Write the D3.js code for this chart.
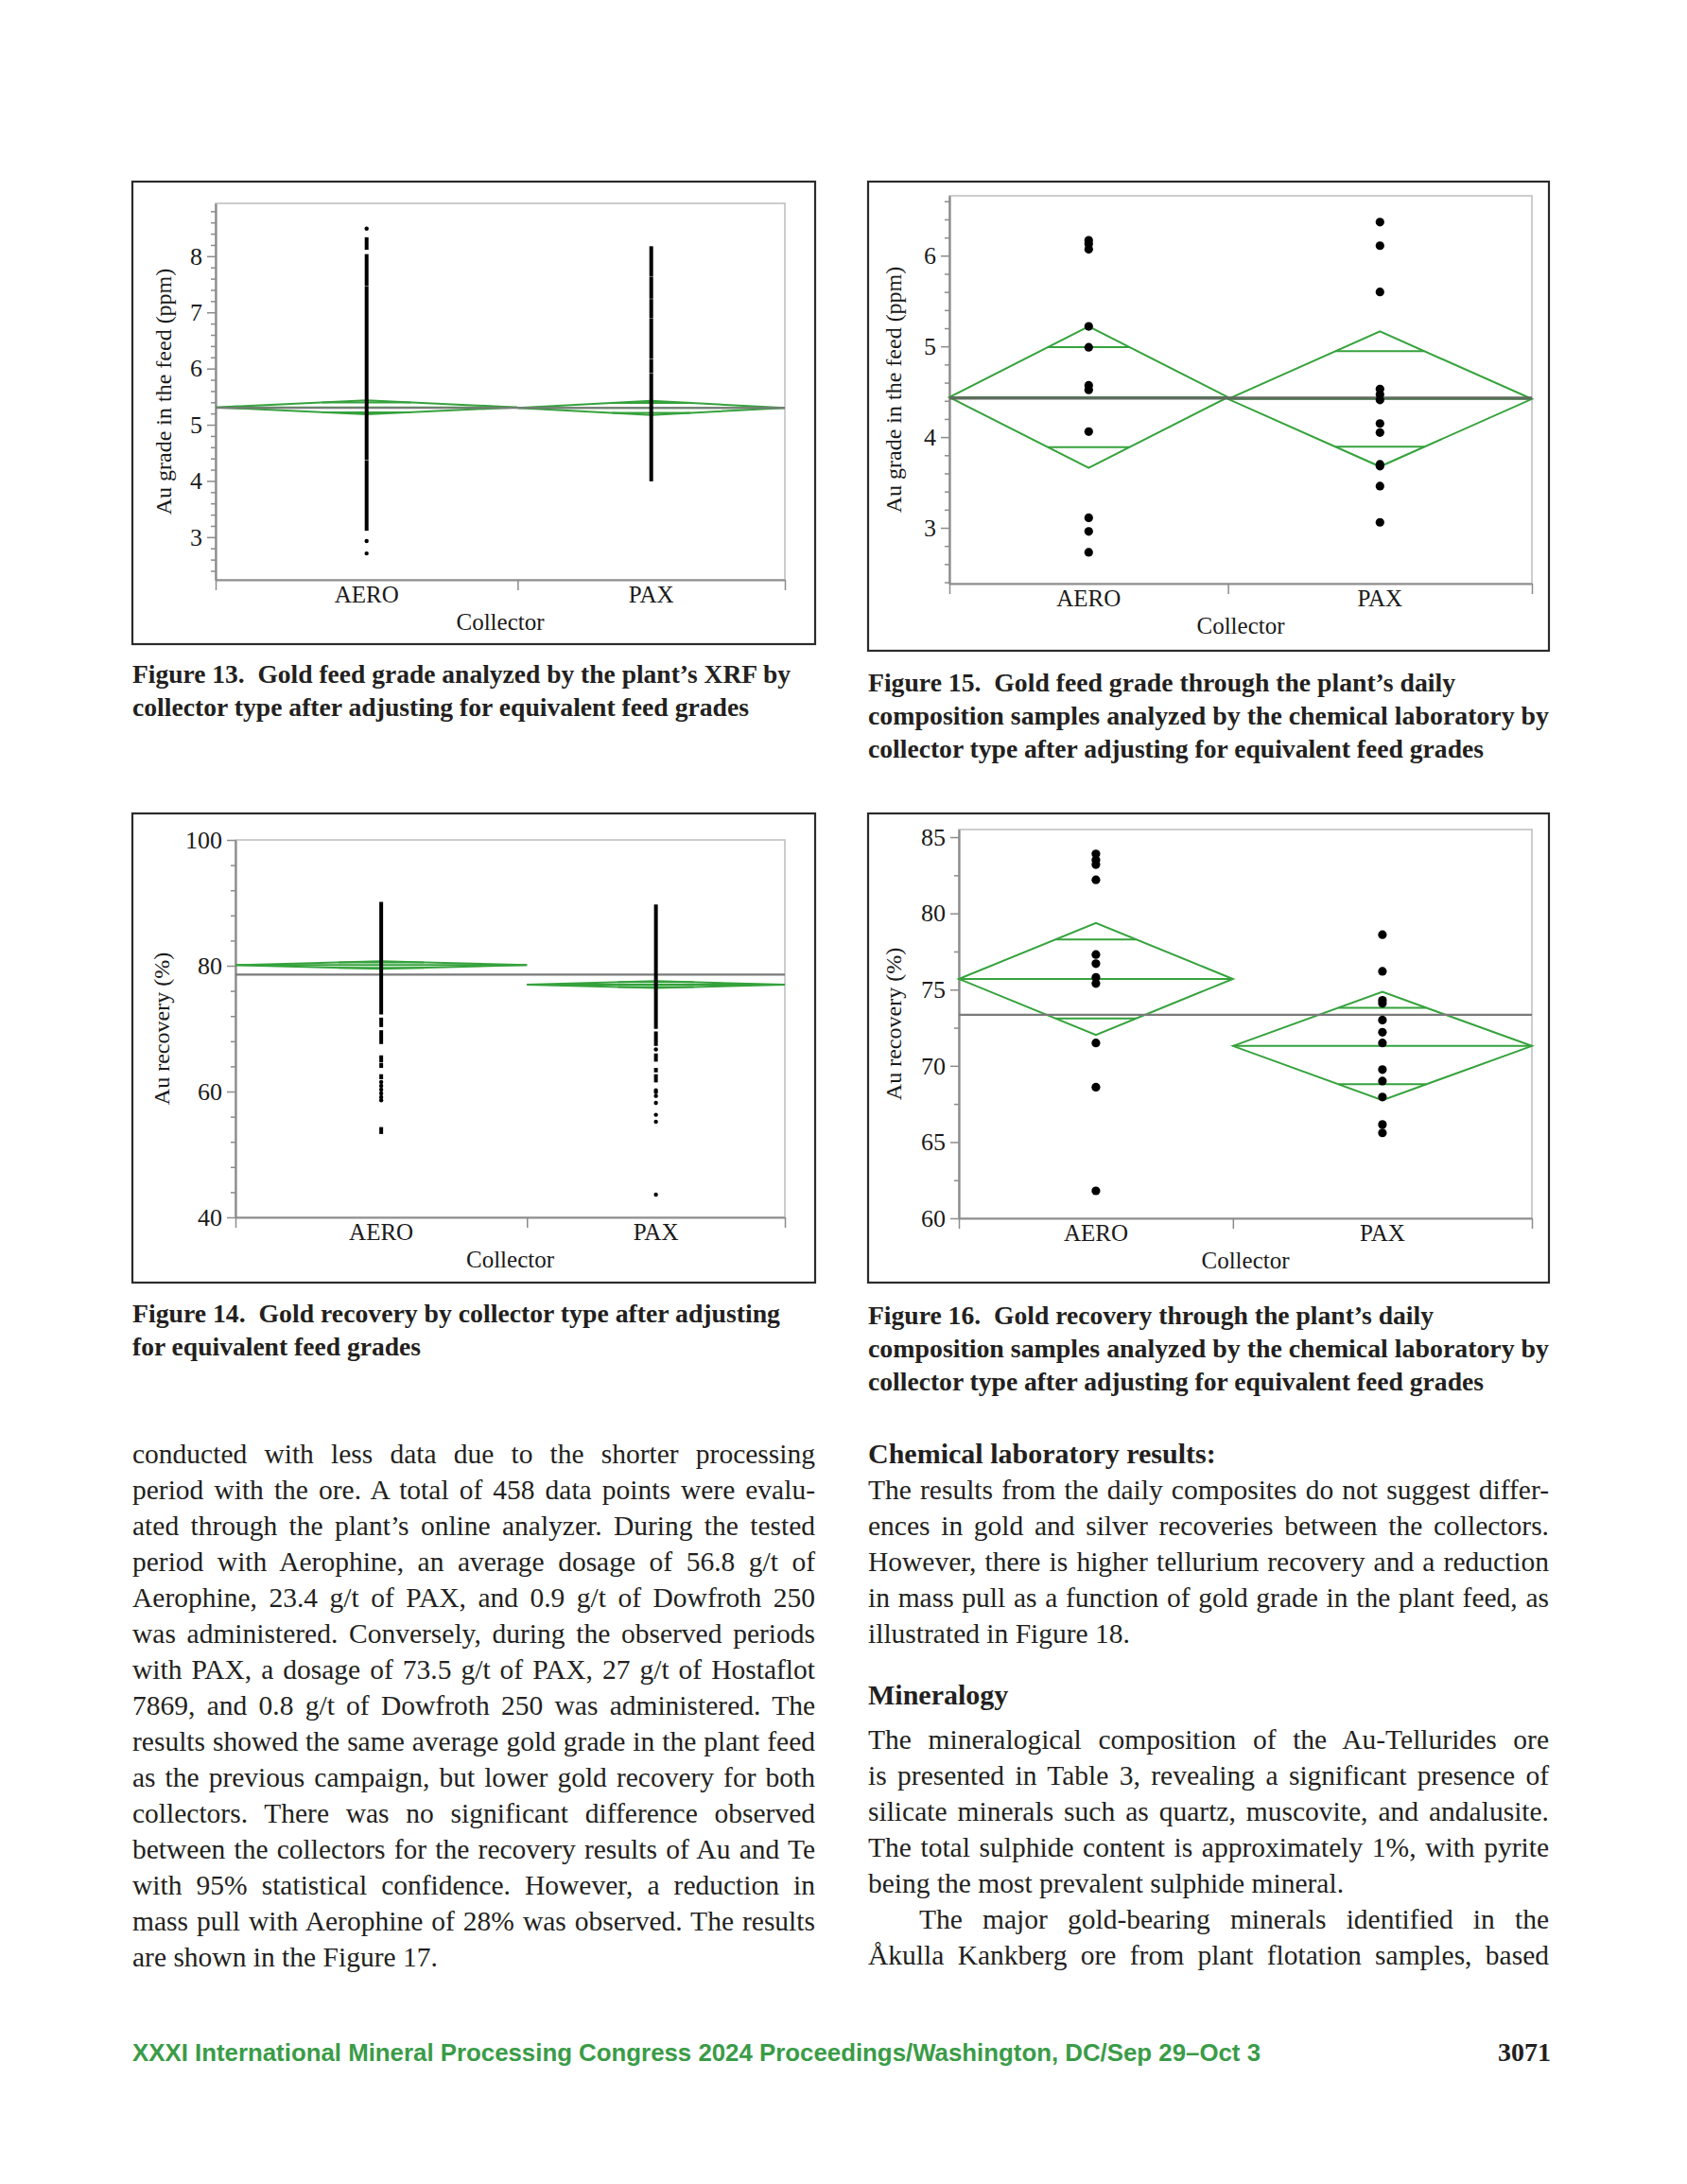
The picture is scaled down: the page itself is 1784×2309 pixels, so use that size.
<!DOCTYPE html>
<html>
<head>
<meta charset="utf-8">
<script src="https://cdn.jsdelivr.net/npm/d3@7"></script>
<style>
  body { margin: 0; background: #fff; }
  svg { display: block; }
  text { font-family: "Liberation Serif", "Times New Roman", serif; }
</style>
</head>
<body>
<script>
// page size
var width = 1784;
var height = 2309;

// collectors and sample counts (category widths follow counts)
var collectors = ["AERO", "PAX"];
var onlineCounts = [243, 215];
var dailyCounts = [11, 12];

// Figure 13 - XRF feed grade (ppm)
var fig13Ticks = [3, 4, 5, 6, 7, 8];
var fig13Means = [5.31, 5.30];
var fig13Ci = [0.125, 0.125];
var fig13Grand = 5.30;
var fig13AeroRuns = [[3.13, 4.35], [4.39, 7.45], [7.49, 8.02], [8.13, 8.32]];
var fig13AeroPts = [8.49, 2.93, 2.71];
var fig13PaxRuns = [[4.01, 5.90], [5.94, 6.15], [6.19, 6.88], [6.92, 7.22], [7.26, 7.62], [7.66, 8.16]];
var fig13PaxPts = [];

// Figure 14 - Au recovery (%), online analyzer
var fig14Ticks = [40, 60, 80, 100];
var fig14Means = [80.1, 77.0];
var fig14Ci = [0.6, 0.55];
var fig14Grand = 78.6;
var fig14AeroRuns = [[72.4, 90.0], [70.4, 71.6], [67.7, 69.6], [64.8, 65.6], [63.9, 64.4], [62.1, 62.6], [53.4, 54.2]];
var fig14AeroPts = [61.5, 60.9, 60.3, 59.7, 59.1, 58.6];
var fig14PaxRuns = [[70.1, 89.6], [67.4, 69.4], [64.9, 65.9], [63.2, 63.6], [61.6, 62.6]];
var fig14PaxPts = [66.7, 60.2, 59.9, 59.3, 58.2, 56.3, 55.2, 43.6];

// Figure 15 - daily composites, feed grade (ppm)
var fig15Ticks = [3, 4, 5, 6];
var fig15Means = [4.44, 4.42];
var fig15Ci = [0.78, 0.745];
var fig15Grand = 4.43;
var fig15Aero = [6.17, 6.13, 6.07, 5.22, 4.99, 4.57, 4.52, 4.06, 3.11, 2.96, 2.73];
var fig15Pax = [6.37, 6.11, 5.60, 4.53, 4.47, 4.41, 4.15, 4.05, 3.70, 3.68, 3.46, 3.06];

// Figure 16 - daily composites, Au recovery (%)
var fig16Ticks = [60, 65, 70, 75, 80, 85];
var fig16Means = [75.7, 71.3];
var fig16Ci = [3.67, 3.55];
var fig16Grand = 73.35;
var fig16Aero = [83.9, 83.5, 83.2, 82.2, 77.3, 76.7, 75.8, 75.4, 71.5, 68.6, 61.8];
var fig16Pax = [78.6, 76.2, 74.3, 74.1, 73.0, 72.2, 71.5, 69.75, 69.0, 67.95, 66.15, 65.6];

var green = "#35a23c";

var svg = d3.select("body")
            .append("svg")
            .attr("width", width)
            .attr("height", height);

svg.append("rect").attr("width", width).attr("height", height).attr("fill", "#fff");

// one JMP style means-diamond chart
function drawChart(o) {
  var g = svg.append("g");

  g.append("rect")
   .attr("x", o.box[0]).attr("y", o.box[1])
   .attr("width", o.box[2] - o.box[0]).attr("height", o.box[3] - o.box[1])
   .attr("fill", "none").attr("stroke", "#2b2b2b").attr("stroke-width", 2.2);

  var y = d3.scaleLinear().domain(o.domain).range([o.frame[3], o.frame[1]]);
  var total = d3.sum(o.counts);
  var x = d3.scaleLinear().domain([0, total]).range([o.frame[0], o.frame[2]]);
  var edges = [0, o.counts[0], total];

  var bands = collectors.map(function(c, i) {
    return {
      name: c,
      x0: x(edges[i]),
      x1: x(edges[i + 1]),
      xc: x((edges[i] + edges[i + 1]) / 2),
      mean: o.means[i],
      ci: o.ci[i]
    };
  });

  // plot frame
  g.append("rect")
   .attr("x", o.frame[0]).attr("y", o.frame[1])
   .attr("width", o.frame[2] - o.frame[0]).attr("height", o.frame[3] - o.frame[1])
   .attr("fill", "none").attr("stroke", "#bdbdbd").attr("stroke-width", 1.5);

  // minor ticks
  var k0 = Math.ceil(o.domain[0] / o.minorStep - 1e-6);
  var k1 = Math.floor(o.domain[1] / o.minorStep + 1e-6);
  var minor = d3.range(k0, k1 + 1).map(function(k) { return +(k * o.minorStep).toFixed(3); })
                .filter(function(v) { return !o.ticks.some(function(t) { return Math.abs(t - v) < 1e-6; }); });

  var minorAxis = g.append("g")
   .attr("transform", "translate(" + o.frame[0] + ",0)")
   .call(d3.axisLeft(y).tickValues(minor).tickSize(5).tickSizeOuter(0).tickFormat(""));

  var yAxis = g.append("g")
   .attr("transform", "translate(" + o.frame[0] + ",0)")
   .call(d3.axisLeft(y).tickValues(o.ticks).tickSize(9).tickSizeOuter(0).tickPadding(5)
           .tickFormat(d3.format("d")));

  var xAxis = g.append("g")
   .attr("transform", "translate(0," + o.frame[3] + ")")
   .call(d3.axisBottom(x).tickValues(edges).tickSize(11).tickSizeOuter(0).tickFormat(""));

  [minorAxis, yAxis, xAxis].forEach(function(a) {
    a.selectAll("path").attr("stroke", "#8c8c8c").attr("stroke-width", 1.8);
    a.selectAll("line").attr("stroke", "#8c8c8c").attr("stroke-width", 1.5);
    a.selectAll("text")
     .style("font-family", '"Liberation Serif", serif')
     .style("font-size", "26px")
     .attr("fill", "#1a1a1a");
  });

  // category labels
  g.selectAll("text.cat")
   .data(bands)
   .enter()
   .append("text")
   .attr("class", "cat")
   .attr("x", function(d) { return d.xc; })
   .attr("y", o.frame[3] + 24)
   .attr("text-anchor", "middle")
   .style("font-size", "25px")
   .attr("fill", "#1a1a1a")
   .text(function(d) { return d.name; });

  g.append("text")
   .attr("x", (o.frame[0] + o.frame[2]) / 2)
   .attr("y", o.frame[3] + 53)
   .attr("text-anchor", "middle")
   .style("font-size", "25px")
   .attr("fill", "#1a1a1a")
   .text("Collector");

  g.append("text")
   .attr("transform", "translate(" + o.titleX + "," + (o.frame[1] + o.frame[3]) / 2 + ") rotate(-90)")
   .attr("text-anchor", "middle")
   .style("font-size", "24px")
   .attr("fill", "#1a1a1a")
   .text(o.title);

  // means diamonds
  g.selectAll("path.diamond")
   .data(bands)
   .enter()
   .append("path")
   .attr("class", "diamond")
   .attr("d", function(d) {
     return "M" + d.x0 + "," + y(d.mean) +
            "L" + d.xc + "," + y(d.mean + d.ci) +
            "L" + d.x1 + "," + y(d.mean) +
            "L" + d.xc + "," + y(d.mean - d.ci) + "Z";
   })
   .attr("fill", "none")
   .attr("stroke", green)
   .attr("stroke-width", 2);

  g.selectAll("line.meanline")
   .data(bands)
   .enter()
   .append("line")
   .attr("x1", function(d) { return d.x0; })
   .attr("x2", function(d) { return d.x1; })
   .attr("y1", function(d) { return y(d.mean); })
   .attr("y2", function(d) { return y(d.mean); })
   .attr("stroke", green)
   .attr("stroke-width", 2);

  // overlap marks at mean +/- ci / sqrt(2)
  var marks = [];
  bands.forEach(function(d) {
    var h = d.ci / Math.SQRT2;
    var w = (d.x1 - d.x0) / 2 * (1 - 1 / Math.SQRT2);
    marks.push({ x0: d.xc - w, x1: d.xc + w, v: d.mean + h });
    marks.push({ x0: d.xc - w, x1: d.xc + w, v: d.mean - h });
  });
  g.selectAll("line.overlap")
   .data(marks)
   .enter()
   .append("line")
   .attr("x1", function(d) { return d.x0; })
   .attr("x2", function(d) { return d.x1; })
   .attr("y1", function(d) { return y(d.v); })
   .attr("y2", function(d) { return y(d.v); })
   .attr("stroke", green)
   .attr("stroke-width", 2);

  // grand mean
  g.append("line")
   .attr("x1", o.frame[0]).attr("x2", o.frame[2])
   .attr("y1", y(o.grand)).attr("y2", y(o.grand))
   .attr("stroke", o.grandColor || "#7a7a7a")
   .attr("stroke-width", o.grandWidth || 2.2);

  // data: dense runs (online analyzer) or single points (daily composites)
  bands.forEach(function(b, i) {
    var runs = o.runs ? o.runs[i] : [];
    g.selectAll("line.run" + i)
     .data(runs)
     .enter()
     .append("line")
     .attr("x1", b.xc).attr("x2", b.xc)
     .attr("y1", function(d) { return y(d[0]) + 1; })
     .attr("y2", function(d) { return y(d[1]) - 1; })
     .attr("stroke", "#000")
     .attr("stroke-width", 4);

    g.selectAll("circle.pt" + i)
     .data(o.points[i])
     .enter()
     .append("circle")
     .attr("cx", b.xc)
     .attr("cy", function(d) { return y(d); })
     .attr("r", o.r)
     .attr("fill", "#000");
  });
}

drawChart({
  box: [140, 192, 862, 681], frame: [228, 215, 830, 613],
  domain: [2.24, 8.94], ticks: fig13Ticks, minorStep: 0.2,
  counts: onlineCounts, means: fig13Means, ci: fig13Ci, grand: fig13Grand,
  runs: [fig13AeroRuns, fig13PaxRuns], points: [fig13AeroPts, fig13PaxPts], r: 2.2,
  title: "Au grade in the feed (ppm)", titleX: 181
});

drawChart({
  box: [918, 192, 1638, 688], frame: [1004, 207, 1620, 617],
  domain: [2.385, 6.66], ticks: fig15Ticks, minorStep: 0.2,
  counts: dailyCounts, means: fig15Means, ci: fig15Ci, grand: fig15Grand,
  grandColor: "#5e6b5e", grandWidth: 3.2,
  points: [fig15Aero, fig15Pax], r: 4.6,
  title: "Au grade in the feed (ppm)", titleX: 953
});

drawChart({
  box: [140, 860, 862, 1356], frame: [249, 888, 830, 1287],
  domain: [40, 100], ticks: fig14Ticks, minorStep: 4,
  counts: onlineCounts, means: fig14Means, ci: fig14Ci, grand: fig14Grand,
  runs: [fig14AeroRuns, fig14PaxRuns], points: [fig14AeroPts, fig14PaxPts], r: 2.2,
  title: "Au recovery (%)", titleX: 179
});

drawChart({
  box: [918, 860, 1638, 1356], frame: [1014, 877, 1620, 1288],
  domain: [60, 85.5], ticks: fig16Ticks, minorStep: 2.5,
  counts: dailyCounts, means: fig16Means, ci: fig16Ci, grand: fig16Grand,
  points: [fig16Aero, fig16Pax], r: 4.6,
  title: "Au recovery (%)", titleX: 953
});

// captions: [text, baseline, width]
function caption(x, rows) {
  rows.forEach(function(r) {
    svg.append("text")
       .attr("x", x).attr("y", r[1])
       .attr("textLength", r[2])
       .attr("lengthAdjust", "spacingAndGlyphs")
       .style("font-size", "27px")
       .style("font-weight", "bold")
       .style("white-space", "pre")
       .attr("fill", "#231f20")
       .text(r[0]);
  });
}

caption(140, [
  ["Figure 13.  Gold feed grade analyzed by the plant\u2019s XRF by", 722, 696],
  ["collector type after adjusting for equivalent feed grades", 757, 652]
]);
caption(918, [
  ["Figure 15.  Gold feed grade through the plant\u2019s daily", 731, 621],
  ["composition samples analyzed by the chemical laboratory by", 766, 720],
  ["collector type after adjusting for equivalent feed grades", 801, 651]
]);
caption(140, [
  ["Figure 14.  Gold recovery by collector type after adjusting", 1398, 685],
  ["for equivalent feed grades", 1433, 305]
]);
caption(918, [
  ["Figure 16.  Gold recovery through the plant\u2019s daily", 1400, 598],
  ["composition samples analyzed by the chemical laboratory by", 1435, 720],
  ["collector type after adjusting for equivalent feed grades", 1470, 651]
]);

// body text, justified by word spacing
function para(x, w, lines) {
  lines.forEach(function(l) {
    var ind = l.indent || 0;
    var t = svg.append("text")
       .attr("x", x + ind).attr("y", l.y)
       .style("font-size", l.bold ? "30px" : "29.5px")
       .style("font-weight", l.bold ? "bold" : "normal")
       .attr("fill", "#231f20")
       .text(l.t);
    if (l.j) {
      var n = t.node().getComputedTextLength();
      var sp = (l.t.match(/ /g) || []).length;
      if (sp > 0) t.style("word-spacing", ((w - ind - n) / sp) + "px");
    }
  });
}

var lead = 38;
var leftLines = [
  "conducted with less data due to the shorter processing",
  "period with the ore. A total of 458 data points were evalu-",
  "ated through the plant\u2019s online analyzer. During the tested",
  "period with Aerophine, an average dosage of 56.8 g/t of",
  "Aerophine, 23.4 g/t of PAX, and 0.9 g/t of Dowfroth 250",
  "was administered. Conversely, during the observed periods",
  "with PAX, a dosage of 73.5 g/t of PAX, 27 g/t of Hostaflot",
  "7869, and 0.8 g/t of Dowfroth 250 was administered. The",
  "results showed the same average gold grade in the plant feed",
  "as the previous campaign, but lower gold recovery for both",
  "collectors. There was no significant difference observed",
  "between the collectors for the recovery results of Au and Te",
  "with 95% statistical confidence. However, a reduction in",
  "mass pull with Aerophine of 28% was observed. The results",
  "are shown in the Figure 17."
];
para(140, 722, leftLines.map(function(t, i) {
  return { t: t, y: 1547 + i * lead, j: i < leftLines.length - 1 };
}));

para(918, 720, [
  { t: "Chemical laboratory results:", y: 1547, bold: true },
  { t: "The results from the daily composites do not suggest differ-", y: 1547 + lead, j: true },
  { t: "ences in gold and silver recoveries between the collectors.", y: 1547 + 2 * lead, j: true },
  { t: "However, there is higher tellurium recovery and a reduction", y: 1547 + 3 * lead, j: true },
  { t: "in mass pull as a function of gold grade in the plant feed, as", y: 1547 + 4 * lead, j: true },
  { t: "illustrated in Figure 18.", y: 1547 + 5 * lead },
  { t: "Mineralogy", y: 1802, bold: true },
  { t: "The mineralogical composition of the Au-Tellurides ore", y: 1849, j: true },
  { t: "is presented in Table 3, revealing a significant presence of", y: 1849 + lead, j: true },
  { t: "silicate minerals such as quartz, muscovite, and andalusite.", y: 1849 + 2 * lead, j: true },
  { t: "The total sulphide content is approximately 1%, with pyrite", y: 1849 + 3 * lead, j: true },
  { t: "being the most prevalent sulphide mineral.", y: 1849 + 4 * lead },
  { t: "The major gold-bearing minerals identified in the", y: 1849 + 5 * lead, j: true, indent: 54 },
  { t: "\u00c5kulla Kankberg ore from plant flotation samples, based", y: 1849 + 6 * lead, j: true }
]);

// footer
svg.append("text")
   .attr("x", 140).attr("y", 2179)
   .attr("textLength", 1193)
   .attr("lengthAdjust", "spacingAndGlyphs")
   .style("font-family", '"Liberation Sans", Arial, sans-serif')
   .style("font-size", "25px")
   .style("font-weight", "bold")
   .attr("fill", "#3a9c47")
   .text("XXXI International Mineral Processing Congress 2024 Proceedings/Washington, DC/Sep 29\u2013Oct 3");

svg.append("text")
   .attr("x", 1640).attr("y", 2179)
   .attr("text-anchor", "end")
   .style("font-size", "28px")
   .style("font-weight", "bold")
   .attr("fill", "#231f20")
   .text("3071");
</script>
</body>
</html>
